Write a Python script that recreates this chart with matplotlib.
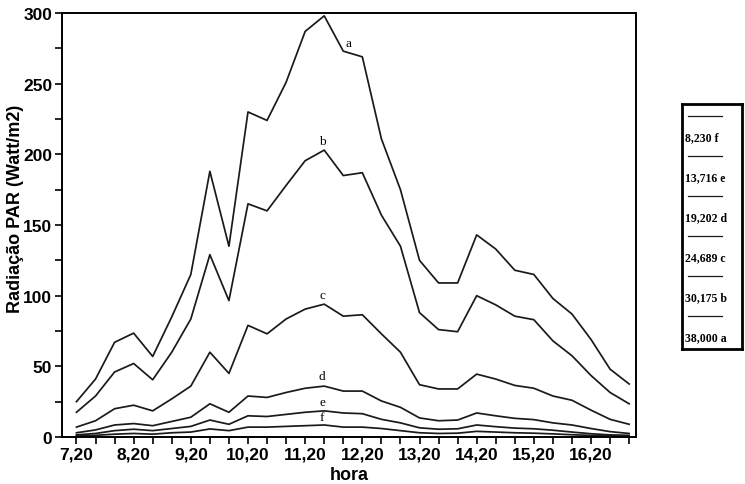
import numpy as np
import matplotlib
matplotlib.use('Agg')
import matplotlib.pyplot as plt

# Radiação PAR ao longo do dia em seis alturas (a..f)
horas = ['7:20', '7:40', '8:00', '8:20', '8:40', '9:00', '9:20', '9:40', '10:00', '10:20',
         '10:40', '11:00', '11:20', '11:40', '12:00', '12:20', '12:40', '13:00', '13:20', '13:40',
         '14:00', '14:20', '14:40', '15:00', '15:20', '15:40', '16:00', '16:20', '16:40', '17:00']

a = [25, 41, 67, 73.5, 57, 85, 115, 188, 135, 230, 224, 251, 287, 298, 273,
     269, 211, 175, 125, 109, 109, 143, 133, 118, 115, 98, 87, 69, 48, 37.5]
b = [17.5, 29, 46, 52, 40.5, 60, 83.5, 129, 96.5, 165, 160, 178, 195.5, 203, 185,
     187, 157, 135, 88, 76, 74.5, 100, 93.5, 85.5, 83, 68, 57.5, 43.5, 31.5, 23.5]
c = [7, 11.5, 20, 22.5, 18.5, 27, 36, 60, 45, 79, 73, 83.5, 90.5, 94, 85.5,
     86.5, 73, 60, 37, 34, 34, 44.5, 41, 36.5, 34.5, 29, 26, 19, 12.5, 9]
d = [3, 5, 8.5, 9.5, 8, 11, 14, 23.5, 17.5, 29, 28, 31.5, 34.5, 36, 32.5,
     32.5, 25.5, 21, 13.5, 11.5, 12, 17, 15, 13.2, 12.3, 10, 8.5, 6, 3.8, 2.5]
e = [1.5, 2.5, 4.5, 5.5, 4.5, 6, 7.5, 12, 9, 15, 14.5, 16, 17.5, 18.5, 17,
     16.5, 12.5, 10, 6.5, 5.5, 5.8, 8.5, 7.3, 6.3, 5.8, 4.8, 3.5, 2.3, 1.5, 1.2]
f = [0.8, 1.2, 2, 2.5, 2, 3, 3.5, 5.7, 4.5, 7, 7, 7.5, 8, 8.5, 7,
     7, 6, 4.5, 3, 2.5, 2.7, 4, 3.5, 3, 2.7, 2.2, 1.6, 1.1, 0.8, 0.6]

series = [a, b, c, d, e, f]
letras = ['a', 'b', 'c', 'd', 'e', 'f']

# legenda (de cima para baixo)
alturas_leg = ['8,230', '13,716', '19,202', '24,689', '30,175', '38,000']
letras_leg = ['f', 'e', 'd', 'c', 'b', 'a']

# converter horas para numero
x = np.array([int(h.split(':')[0]) + int(h.split(':')[1]) / 60 for h in horas])

plt.rcParams['font.family'] = ['Liberation Sans', 'DejaVu Sans']

fig = plt.figure(figsize=(7.45, 4.85), dpi=100)
ax = fig.add_axes([0.0832, 0.0969, 0.7705, 0.8742])

for s in series:
    ax.plot(x, s, color='#1a1a1a', lw=1.25)

# letras das curvas
offsets = {'a': (24, -33), 'b': (-2, 3), 'c': (-2, 3), 'd': (-2, 4), 'e': (-2, 3), 'f': (-2, 2)}
for s, l in zip(series, letras):
    i = int(np.argmax(s))
    ax.annotate(l, (x[i], s[i]), xytext=offsets[l], textcoords='offset pixels',
                ha='center', va='bottom', fontsize=9.5, family='Liberation Serif')

ax.set_xlim(7.08, 17.12)
ax.set_ylim(0, 300)
ax.set_xticks(x)
ax.set_xticklabels([h.replace(':', ',') if h.endswith(':20') else '' for h in horas])
ax.set_yticks([0, 50, 100, 150, 200, 250, 300])
ax.set_yticks(np.arange(0, 301, 25), minor=True)
ax.tick_params(axis='both', direction='out', length=5, width=1.2, labelsize=12.5, pad=2)
ax.tick_params(axis='y', which='minor', direction='out', length=5, width=1.2)
for lab in ax.get_xticklabels() + ax.get_yticklabels():
    lab.set_fontweight('bold')
for sp in ax.spines.values():
    sp.set_linewidth(1.4)

ax.set_xlabel('hora', fontsize=13, fontweight='bold', labelpad=3)
ax.set_ylabel('Radiação PAR (Watt/m2)', fontsize=13, fontweight='bold')
ax.yaxis.set_label_coords(-0.066, 0.54)

# caixa da legenda
lg = fig.add_axes([0.915, 0.278, 0.081, 0.505])
lg.set_xlim(0, 1)
lg.set_ylim(0, 1)
lg.set_xticks([])
lg.set_yticks([])
for sp in lg.spines.values():
    sp.set_linewidth(2)
n = len(alturas_leg)
for k in range(n):
    y_lin = 0.951 - k * 0.163
    lg.plot([0.1, 0.67], [y_lin, y_lin], color='#1a1a1a', lw=0.9)
    lg.text(0.06, y_lin - 0.085, alturas_leg[k] + ' ' + letras_leg[k], fontsize=8.5,
            family='Liberation Serif', fontweight='bold', va='center', ha='left')

fig.savefig('out.png', dpi=100)
